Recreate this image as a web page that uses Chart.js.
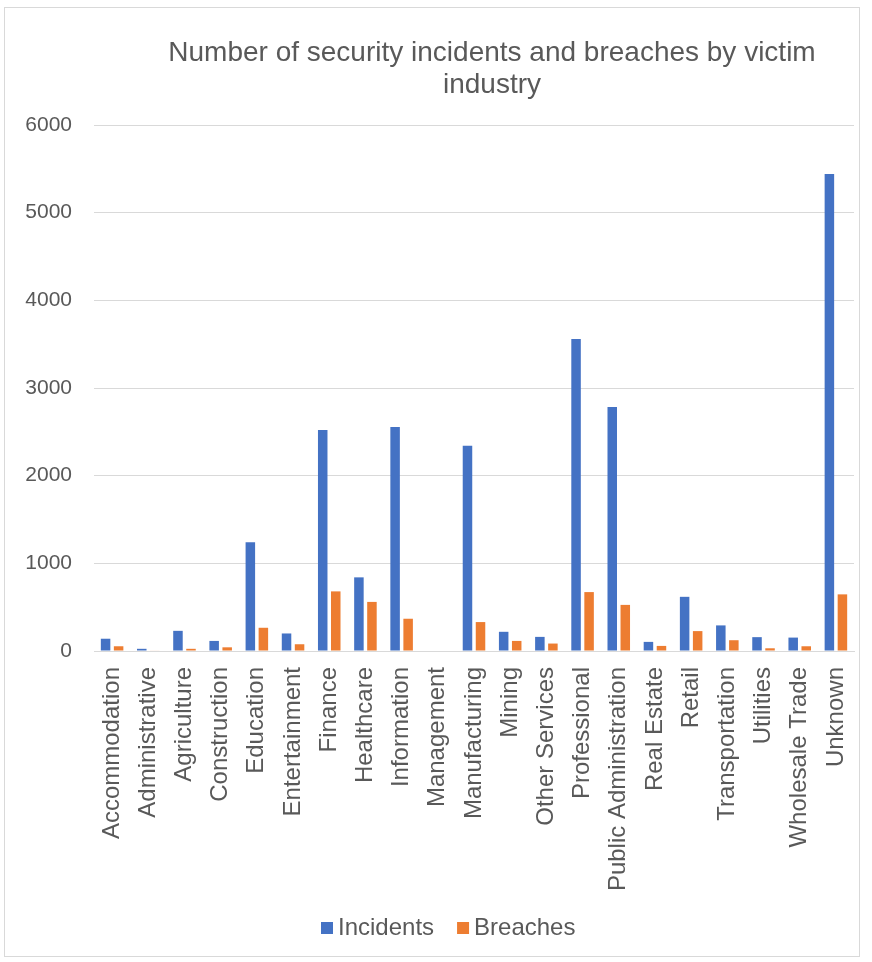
<!DOCTYPE html>
<html>
<head>
<meta charset="utf-8">
<script src="https://cdn.jsdelivr.net/npm/chart.js@4/dist/chart.umd.min.js"></script>
<style>
  html, body { margin: 0; padding: 0; background: #fff; }
  #box {
    position: absolute; left: 4px; top: 7px;
    width: 856px; height: 950px;
    border: 1px solid #d9d9d9; box-sizing: border-box;
  }
  canvas { display: block; }
</style>
</head>
<body>
<div id="box"><canvas id="barChart" width="854" height="948"></canvas></div>
<script>
const categories = ['Accommodation', 'Administrative', 'Agriculture', 'Construction', 'Education',
  'Entertainment', 'Finance', 'Healthcare', 'Information', 'Management', 'Manufacturing', 'Mining',
  'Other Services', 'Professional', 'Public Administration', 'Real Estate', 'Retail',
  'Transportation', 'Utilities', 'Wholesale Trade', 'Unknown'];
const incidents = [140, 25, 230, 115, 1240, 200, 2520, 840, 2555, 0, 2340, 219, 161, 3560,
  2782, 104, 618, 292, 158, 153, 5440];
const breaches = [54, 5, 25, 42, 265, 77, 680, 560, 368, 0, 330, 115, 85, 672,
  526, 58, 227, 123, 31, 54, 646];
const yTicks = [0, 1000, 2000, 3000, 4000, 5000, 6000];
const titleLines = ['Number of security incidents and breaches by victim', 'industry'];

const textGray = '#595959';
const font = 'Liberation Sans, Arial, sans-serif';

// title drawn by hand so it can sit where Excel put it
const titlePlugin = {
  id: 'excelTitle',
  afterDraw(chart) {
    const ctx = chart.ctx;
    ctx.save();
    ctx.fillStyle = textGray;
    ctx.font = '28px ' + font;
    ctx.textAlign = 'center';
    ctx.textBaseline = 'middle';
    ctx.fillText(titleLines[0], 487, 45);
    ctx.fillText(titleLines[1], 487, 77);
    ctx.restore();
  }
};

// Excel style legend: small square, tight gap, centred a bit right
const legendPlugin = {
  id: 'excelLegend',
  afterDraw(chart) {
    const ctx = chart.ctx;
    ctx.save();
    ctx.font = '24px ' + font;
    ctx.textBaseline = 'middle';
    const y = 920;
    let x = 316;
    chart.data.datasets.forEach(ds => {
      ctx.fillStyle = ds.backgroundColor;
      ctx.fillRect(x, y - 6, 12, 12);
      ctx.fillStyle = textGray;
      ctx.fillText(ds.label, x + 17, y);
      x += 17 + ctx.measureText(ds.label).width + 23;
    });
    ctx.restore();
  }
};

document.addEventListener('DOMContentLoaded', function() {
  const ctx = document.getElementById('barChart').getContext('2d');
  new Chart(ctx, {
    type: 'bar',
    data: {
      labels: categories,
      datasets: [{
        label: 'Incidents',
        data: incidents,
        backgroundColor: '#4472C4',
        barPercentage: 0.73,
        categoryPercentage: 0.72
      }, {
        label: 'Breaches',
        data: breaches,
        backgroundColor: '#ED7D31',
        barPercentage: 0.73,
        categoryPercentage: 0.72
      }]
    },
    options: {
      responsive: false,
      animation: false,
      layout: { padding: { top: 117, right: 5, bottom: 55, left: 0 } },
      plugins: {
        title: { display: false },
        tooltip: { enabled: false },
        legend: { display: false }
      },
      scales: {
        x: {
          grid: { display: false },
          border: { color: '#d9d9d9' },
          ticks: {
            color: textGray,
            font: { family: font, size: 24 },
            minRotation: 90,
            maxRotation: 90,
            autoSkip: false,
            padding: 8
          },
          afterFit: scale => {
            scale.height = 250;
            scale.paddingLeft = 0;
            scale.paddingRight = 0;
          }
        },
        y: {
          min: 0,
          max: 6000,
          afterBuildTicks: scale => { scale.ticks = yTicks.map(v => ({ value: v })); },
          grid: { color: '#d9d9d9', drawTicks: false },
          border: { display: false },
          ticks: {
            color: textGray,
            font: { family: font, size: 21 },
            padding: 22,
            callback: v => String(v)
          },
          afterFit: scale => { scale.width = 89; }
        }
      }
    },
    plugins: [titlePlugin, legendPlugin]
  });
});
</script>
</body>
</html>
